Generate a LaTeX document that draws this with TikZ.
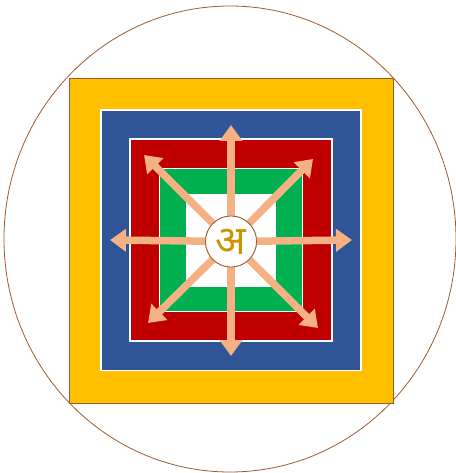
\documentclass[tikz,border=0pt]{standalone}
\usepackage{fontspec}
\newfontfamily\devafont[Script=Devanagari]{Noto Sans}
\usetikzlibrary{arrows.meta,shapes.geometric}

\definecolor{rim}{HTML}{9E5A2E}
\definecolor{goldband}{HTML}{FFC000}
\definecolor{blueband}{HTML}{2F5597}
\definecolor{redband}{HTML}{C00000}
\definecolor{greenband}{HTML}{00B050}
\definecolor{raycol}{HTML}{F4B183}
\definecolor{seedcol}{HTML}{CC9400}

\begin{document}
\begin{tikzpicture}[
  x=1pt,y=-1pt,
  band/.style={rectangle,inner sep=0pt,outer sep=0pt},
  ray/.style={raycol,line width=7.5pt,-{Triangle[width=22pt,length=16pt]}}
]
  \useasboundingbox (0,0) rectangle (455,473);

  \node[ellipse,draw=rim,line width=.8pt,minimum width=452pt,minimum height=466pt,inner sep=0pt] (halo) at (230,239) {};

  \node[band,fill=goldband,draw=rim,line width=.7pt,minimum width=324pt,minimum height=325pt] (gold) at (231,240.5) {};
  \node[band,fill=blueband,draw=white,line width=1.6pt,minimum width=260pt,minimum height=260pt] (blue) at (231,240.3) {};
  \node[band,fill=redband,draw=white,line width=1.4pt,minimum width=202pt,minimum height=202pt] (red) at (231,240) {};
  \node[band,fill=greenband,draw=white,line width=1.2pt,minimum width=143pt,minimum height=143pt] (green) at (231,240) {};
  \node[band,fill=white,minimum width=90.5pt,minimum height=93pt] (court) at (230.8,240.5) {};

  % the eight rays
  \coordinate (tipN) at (231,125);
  \coordinate (tipS) at (231,356);
  \coordinate (tipW) at (110,240);
  \coordinate (tipE) at (352,240);
  \coordinate (tipNW) at (144,155);
  \coordinate (tipNE) at (313,159);
  \coordinate (tipSW) at (148,323);
  \coordinate (tipSE) at (318,328);

  \node[circle,draw=rim,fill=white,line width=.8pt,minimum size=51pt,inner sep=0pt] (hub) at (231,241.5) {};
  \foreach \t in {N,S,W,E,NW,NE,SW,SE}
    \draw[ray] (hub) -- (tip\t);
  \node[circle,draw=rim,fill=white,line width=.8pt,minimum size=51pt,inner sep=0pt] (seed) at (231,241.5)
    {\devafont\bfseries\fontsize{40}{40}\selectfont\color{seedcol}अ};
\end{tikzpicture}
\end{document}
